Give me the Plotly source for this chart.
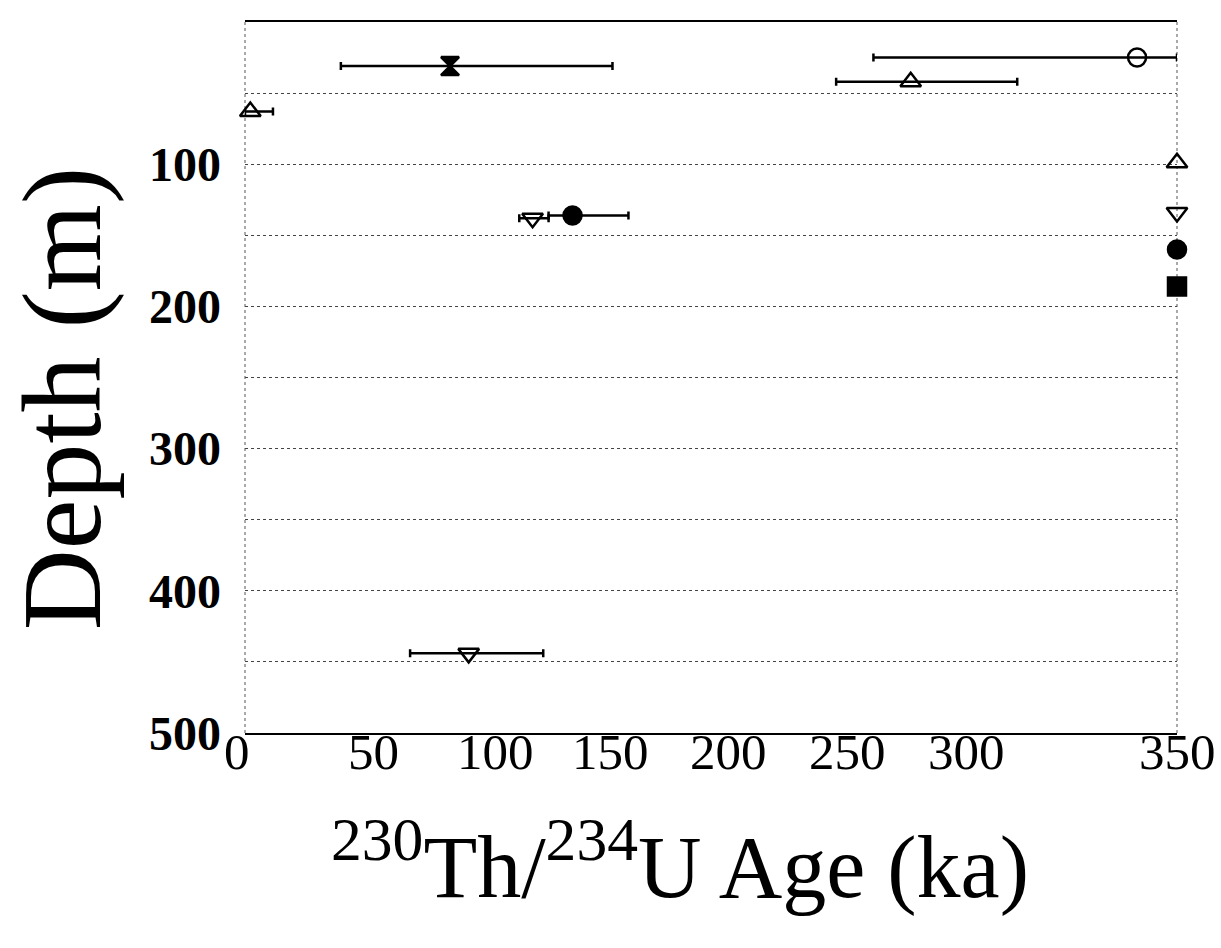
import plotly.graph_objects as go

# ---- data (age in ka, depth in m) ----
series_names = ["hourglass", "open circle", "triangle A", "triangle B", "filled circle", "down triangle A", "down triangle B"]
age = [77, 335, 250, 2, 123, 108, 84]
depth = [31, 25, 42, 63, 136, 138, 444]
err_plus = [61, 15, 40, 8.5, 21, 6, 28]
err_minus = [41, 99, 28, 2, 9, 5, 22]
symbols = ["hourglass", "circle-open", "triangle-up-open", "triangle-up-open", "circle", "triangle-down-open", "triangle-down-open"]

# samples beyond the dating limit (plotted at 350 ka)
edge_age = [350, 350, 350, 350]
edge_depth = [99, 134, 160, 186]
edge_symbols = ["triangle-up-open", "triangle-down-open", "circle", "square"]

# tick labels as printed (positions follow the original figure)
x_range = [0, 350]
x_tick_vals = [-3, 48.4, 93.9, 137.4, 181.4, 226.4, 271.1, 350]
x_tick_text = ["0", "50", "100", "150", "200", "250", "300", "350"]
y_tick_vals = [0, 100, 200, 300, 400, 500]

fig = go.Figure()

for i in range(len(age)):
    fig.add_trace(go.Scatter(
        x=[age[i]], y=[depth[i]], mode="markers", name=series_names[i],
        marker=dict(symbol=symbols[i], size=18, color="black", line=dict(color="black", width=2.5)),
        error_x=dict(type="data", symmetric=False, array=[err_plus[i]], arrayminus=[err_minus[i]],
                     color="black", thickness=2.5, width=4),
        cliponaxis=False, showlegend=False,
    ))

fig.add_trace(go.Scatter(
    x=edge_age, y=edge_depth, mode="markers",
    marker=dict(symbol=edge_symbols, size=18, color="black", line=dict(color="black", width=2.5)),
    cliponaxis=False, showlegend=False,
))

# dotted vertical borders
for xv in [0, 1]:
    fig.add_shape(type="line", xref="paper", yref="paper", x0=xv, x1=xv, y0=0, y1=1,
                  line=dict(color="#555", width=1, dash="dot"), layer="below")

annotations = []
span = x_range[1] - x_range[0]
for v, t in zip(x_tick_vals, x_tick_text):
    annotations.append(dict(text=t, xref="paper", yref="paper", x=(v - x_range[0]) / span, y=-0.027,
                            xanchor="center", yanchor="middle", showarrow=False,
                            font=dict(family="Liberation Serif", size=51, color="black")))
annotations.append(dict(text="<sup>230</sup>Th/<sup>234</sup>U Age (ka)", xref="paper", yref="paper",
                        x=0.467, y=-0.18, xanchor="center", yanchor="middle", showarrow=False,
                        font=dict(family="Liberation Serif", size=88, color="black")))
annotations.append(dict(text="Depth (m)", xref="paper", yref="paper", textangle=-90,
                        x=-0.196, y=0.47, xanchor="center", yanchor="middle", showarrow=False,
                        font=dict(family="Liberation Serif", size=112, color="black")))

fig.update_layout(
    width=1221, height=948,
    margin=dict(l=245, r=44, t=22, b=215),
    paper_bgcolor="white", plot_bgcolor="white",
    font=dict(family="Liberation Serif", color="black"),
    xaxis=dict(range=x_range, showticklabels=False,
               showgrid=False, zeroline=False, showline=True, mirror=True,
               linecolor="black", linewidth=2, ticks=""),
    yaxis=dict(range=[500, 0], tickvals=y_tick_vals, showgrid=True, gridcolor="#444",
               griddash="dot", gridwidth=1, zeroline=False, showline=False, ticks="",
               minor=dict(dtick=50, showgrid=True, gridcolor="#444", griddash="dot", gridwidth=1),
               tickfont=dict(family="Liberation Serif", size=48, color="black", weight="bold"),
               ticklabelstandoff=23),
    annotations=annotations,
)

fig.write_html("out.html")
